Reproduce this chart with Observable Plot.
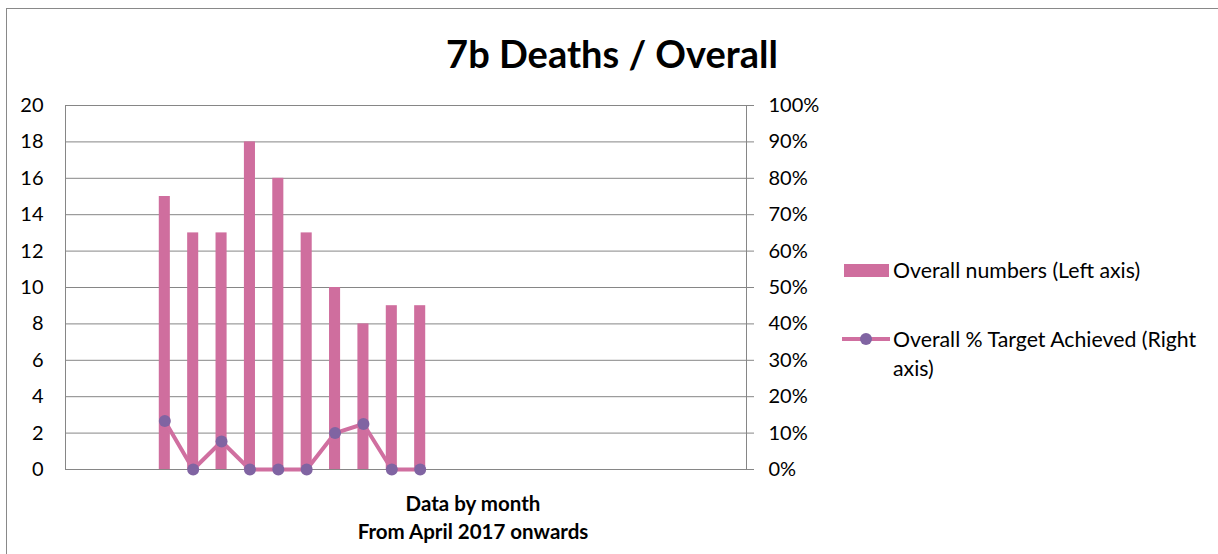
<!DOCTYPE html>
<html><head><meta charset="utf-8">
<script src="https://cdn.jsdelivr.net/npm/d3@7"></script>
<script src="https://cdn.jsdelivr.net/npm/@observablehq/plot@0.6"></script>
<style>
body{margin:0;background:#fff;font-family:Lato,"Open Sans",sans-serif;color:#000;}
#wrap{position:relative;width:1218px;height:554px;overflow:hidden;background:#fff;}
#frame{position:absolute;left:6px;top:8px;width:1230px;height:560px;border:1px solid #898989;box-sizing:border-box;}
#title{position:absolute;left:0;width:1224px;top:31px;text-align:center;font-weight:bold;font-size:38px;line-height:44px;}
#xlab{position:absolute;left:273px;width:400px;top:489px;text-align:center;font-weight:bold;font-size:20.5px;line-height:28px;}
#chart{position:absolute;left:0;top:0;}
.leg{position:absolute;font-size:21.3px;line-height:29px;white-space:nowrap;}
.sw{position:absolute;}
</style>
</head><body>
<div id="wrap">
  <div id="frame"></div>
  <div id="chart"></div>
  <div id="title">7b Deaths / Overall</div>
  <div id="xlab">Data by month<br>From April 2017 onwards</div>
  <svg class="sw" style="left:838px;top:255px" width="56" height="100">
    <rect x="6" y="9" width="45" height="13" fill="#CF6E9E"></rect>
    <line x1="4" x2="52" y1="84" y2="84" stroke="#D06FA0" stroke-width="4"></line>
    <circle cx="28" cy="84" r="6" fill="#8064A2"></circle>
  </svg>
  <div class="leg" style="left:893px;top:256px">Overall numbers (Left axis)</div>
  <div class="leg" style="left:893px;top:325px">Overall % Target Achieved (Right<br>axis)</div>
</div>
<script>
const months = ["Apr 2017","May 2017","Jun 2017","Jul 2017","Aug 2017","Sep 2017","Oct 2017","Nov 2017","Dec 2017","Jan 2018","Feb 2018","Mar 2018","Apr 2018","May 2018","Jun 2018","Jul 2018","Aug 2018","Sep 2018","Oct 2018","Nov 2018","Dec 2018","Jan 2019","Feb 2019","Mar 2019"];
const overallNumbers = [null,null,null,15,13,13,18,16,13,10,8,9,9,null,null,null,null,null,null,null,null,null,null,null];
const pctAchieved = [null,null,null,0.133,0,0.077,0,0,0,0.10,0.125,0,0,null,null,null,null,null,null,null,null,null,null,null];
const leftTicks = [0,2,4,6,8,10,12,14,16,18,20];
const rightTickLabels = ["0%","10%","20%","30%","40%","50%","60%","70%","80%","90%","100%"];

const bars = months.map((m,i)=>({month:m, value:overallNumbers[i]})).filter(d=>d.value!=null);
const pcts = months.map((m,i)=>({month:m, pct:pctAchieved[i]})).filter(d=>d.pct!=null);
const grey = "#868686";

const chart = Plot.plot({
  width:1218, height:554,
  marginLeft:65, marginRight:472, marginTop:105, marginBottom:85,
  style:{fontFamily:"Lato, 'Open Sans', sans-serif", fontSize:"20px", color:"#000", background:"transparent"},
  x:{type:"band", domain:months, paddingInner:0.61, paddingOuter:0.305, round:false, axis:null},
  y:{domain:[0,20], axis:null},
  marks:[
    Plot.gridY(leftTicks, {stroke:grey, strokeOpacity:1}),
    Plot.frame({stroke:grey}),
    Plot.axisY(leftTicks, {anchor:"left", tickSize:0, tickPadding:22, fontSize:20, label:null}),
    Plot.axisY(leftTicks, {anchor:"right", tickSize:7, tickPadding:15, stroke:grey, fontSize:20, label:null,
      tickFormat:(d)=>rightTickLabels[leftTicks.indexOf(d)]}),
    Plot.barY(bars, {x:"month", y:"value", fill:"#CF6E9E"}),
    Plot.line(pcts, {x:"month", y:d=>d.pct*20, stroke:"#D06FA0", strokeWidth:4}),
    Plot.dot(pcts, {x:"month", y:d=>d.pct*20, r:6, fill:"#8064A2", stroke:"none"})
  ]
});
document.getElementById("chart").appendChild(chart);
</script>
</body></html>
